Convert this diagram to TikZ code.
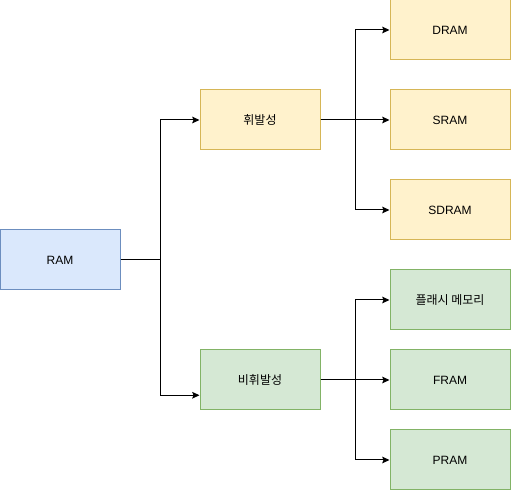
\documentclass[tikz,border=0pt]{standalone}
\usepackage{fontspec}
\setmainfont{Liberation Sans}
\newfontfamily\krfont{Noto Sans CJK KR}
\usetikzlibrary{arrows.meta, positioning, calc}
\definecolor{ramFill}{HTML}{DAE8FC}
\definecolor{ramLine}{HTML}{6C8EBF}
\definecolor{volFill}{HTML}{FFF2CC}
\definecolor{volLine}{HTML}{D6B656}
\definecolor{nvolFill}{HTML}{D5E8D4}
\definecolor{nvolLine}{HTML}{82B366}

\begin{document}
\begin{tikzpicture}[x=0.75pt, y=-0.75pt,
            box/.style={rectangle, minimum width=90pt, minimum height=45pt,
                        font=\fontsize{9}{11}\selectfont, align=center, line width=0.75pt, inner sep=0pt},
            arrow/.style={-{Stealth[length=5.5pt, width=5pt, inset=1pt]}, line width=0.75pt, black}
        ]
            \useasboundingbox (0,0) rectangle (511,491);

            % Root
            \node[box, fill=ramFill, draw=ramLine] (ram) at (60,260) {RAM};

            % Volatile / non-volatile
            \node[box, fill=volFill, draw=volLine] (vol) at (260,120) {\krfont 휘발성};
            \node[box, fill=nvolFill, draw=nvolLine] (nvol) at (260,380) {\krfont 비휘발성};

            % Volatile types
            \node[box, fill=volFill, draw=volLine] (dram) at (450,30) {DRAM};
            \node[box, fill=volFill, draw=volLine] (sram) at (450,120) {SRAM};
            \node[box, fill=volFill, draw=volLine] (sdram) at (450,210) {SDRAM};

            % Non-volatile types
            \node[box, fill=nvolFill, draw=nvolLine] (flash) at (450,300) {\krfont 플래시 메모리};
            \node[box, fill=nvolFill, draw=nvolLine] (fram) at (450,380) {FRAM};
            \node[box, fill=nvolFill, draw=nvolLine] (pram) at (450,460) {PRAM};

            % Arrows
            \draw[arrow] (ram.east) -- ++(40,0) |- (vol.west);
            \draw[arrow] (ram.east) -- ++(40,0) |- ($(nvol.west)!0.5!(nvol.south west)$);
            \draw[arrow] (vol.east) -- ++(35,0) |- (dram.west);
            \draw[arrow] (vol.east) -- (sram.west);
            \draw[arrow] (vol.east) -- ++(35,0) |- (sdram.west);
            \draw[arrow] (nvol.east) -- ++(35,0) |- (flash.west);
            \draw[arrow] (nvol.east) -- (fram.west);
            \draw[arrow] (nvol.east) -- ++(35,0) |- (pram.west);
        \end{tikzpicture}
\end{document}
